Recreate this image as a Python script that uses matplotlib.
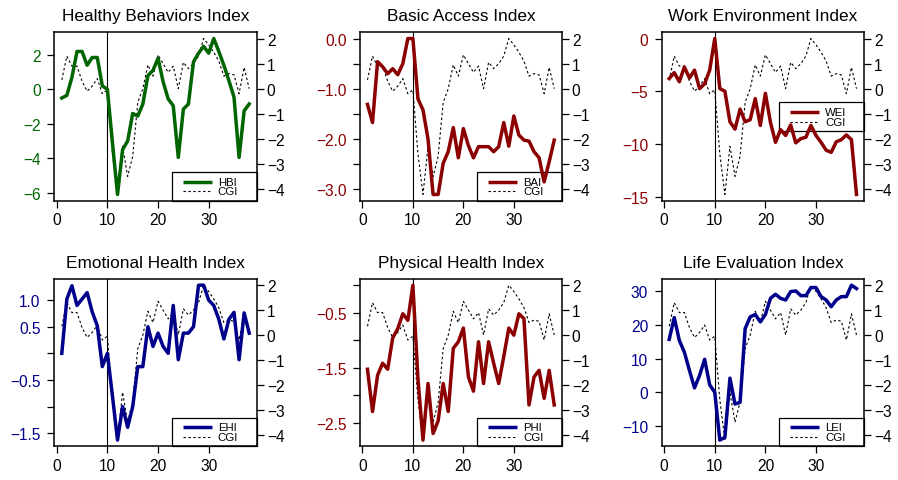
import numpy as np
import matplotlib
matplotlib.use('Agg')
import matplotlib.pyplot as plt
from matplotlib.patches import Rectangle

plt.rcParams['font.family'] = ['Liberation Sans', 'DejaVu Sans']

week = np.arange(1, 39)

# composite index, shared by every panel (right axis)
cgi = [0.35, 1.3, 0.9, 0.9, 0.3, -0.1, 0.1, 0.4, -0.2, -0.05,
       -2.6, -4.22, -2.3, -3.5, -2.7, -0.55, 0.0, 0.95, 0.5, 1.35,
       1.0, 0.65, 0.9, 0.0, 1.05, 0.8, 1.0, 1.3, 2.0, 1.75,
       1.45, 1.1, 0.5, 0.6, 0.55, -0.2, 0.85, 0.0]

hbi = [-0.5, -0.35, 0.7, 2.2, 2.2, 1.4, 1.85, 1.85, 0.2, 0.0,
       -3.1, -6.1, -3.5, -3.0, -1.4, -1.55, -0.85, 0.8, 1.1, 1.8,
       0.45, -0.55, -0.95, -3.95, -1.15, -0.85, 1.6, 2.1, 2.5, 2.1,
       2.95, 2.2, 1.4, 0.5, -0.45, -3.95, -1.25, -0.85]

bai = [-1.31, -1.67, -0.46, -0.56, -0.7, -0.6, -0.72, -0.5, 0.0, 0.0,
       -1.2, -1.42, -2.0, -3.1, -3.1, -2.48, -2.25, -1.77, -2.37, -1.79,
       -2.13, -2.37, -2.15, -2.15, -2.15, -2.25, -2.15, -1.67, -2.14, -1.54,
       -1.92, -2.02, -2.04, -2.25, -2.37, -2.85, -2.45, -2.02]

wei = [-3.8, -3.24, -4.1, -2.7, -3.75, -3.0, -4.75, -4.3, -3.0, 0.0,
       -4.75, -5.0, -7.9, -8.6, -6.7, -7.9, -7.7, -5.7, -8.25, -5.2,
       -7.95, -9.85, -8.65, -9.2, -8.2, -9.9, -9.5, -9.37, -8.25, -9.2,
       -9.85, -10.6, -10.8, -9.8, -9.6, -9.15, -9.6, -14.8]

ehi = [0.0, 1.02, 1.27, 0.9, 1.02, 1.14, 0.78, 0.52, -0.25, 0.0,
       -0.8, -1.63, -1.0, -1.39, -1.0, -0.25, -0.25, 0.5, 0.13, 0.38,
       0.13, 0.0, 0.9, -0.12, 0.38, 0.38, 0.5, 1.28, 1.28, 1.0,
       0.9, 0.64, 0.27, 0.64, 0.77, -0.12, 0.76, 0.38]

phi = [-1.53, -2.3, -1.64, -1.42, -1.53, -0.96, -0.79, -0.52, -0.64, 0.0,
       -1.7, -2.82, -1.79, -2.7, -2.47, -1.79, -2.3, -1.15, -1.03, -0.78,
       -1.67, -1.93, -1.03, -1.79, -1.03, -1.42, -1.79, -1.3, -0.78, -0.91,
       -0.52, -0.61, -2.18, -1.67, -1.55, -2.06, -1.55, -2.18]

lei = [15.7, 22.2, 15.4, 11.9, 6.5, 1.3, 5.0, 9.8, 2.2, 0.0,
       -14.2, -13.4, 4.2, -3.5, -3.0, 18.9, 22.4, 23.1, 20.9, 23.1,
       27.9, 29.1, 27.9, 27.4, 29.9, 30.1, 28.7, 28.7, 31.1, 31.1,
       28.4, 27.4, 25.4, 27.4, 28.4, 28.4, 31.8, 30.8]

x_ticks = [0, 10, 20, 30]
cgi_ticks = [-4, -3, -2, -1, 0, 1, 2]

green = '#006400'
red = '#8b0000'
navy = '#00008b'

# title, key label, series, line colour, key colour, y ticks, y tick labels, key centre
panels = [
    ('Healthy Behaviors Index', 'HBI', hbi, green, green,
     [-6, -4, -2, 0, 2], ['−6', '−4', '−2', '0', '2'], None),
    ('Basic Access Index', 'BAI', bai, red, red,
     [-3.0, -2.5, -2.0, -1.5, -1.0, -0.5, 0.0],
     ['−3.0', '', '−2.0', '', '−1.0', '', '0.0'], None),
    ('Work Environment Index', 'WEI', wei, red, red,
     [-15, -10, -5, 0], ['−15', '−10', '−5', '0'], 0.5),
    ('Emotional Health Index', 'EHI', ehi, navy, navy,
     [-1.5, -1.0, -0.5, 0.0, 0.5, 1.0],
     ['−1.5', '', '−0.5', '', '0.5', '1.0'], None),
    ('Physical Health Index', 'PHI', phi, red, navy,
     [-2.5, -2.0, -1.5, -1.0, -0.5, 0.0],
     ['−2.5', '', '−1.5', '', '−0.5', ''], None),
    ('Life Evaluation Index', 'LEI', lei, navy, navy,
     [-10, 0, 10, 20, 30], ['−10', '0', '10', '20', '30'], None),
]


def r_range(v, f=0.04):
    lo, hi = min(v), max(v)
    pad = (hi - lo) * f
    return lo - pad, hi + pad


def draw_key(ax, label, color, yc):
    w, h = 0.4185, 0.172
    x0 = 1 - w
    y0 = 0.0 if yc is None else yc - h / 2
    ax.add_patch(Rectangle((x0, y0), w, h, transform=ax.transAxes,
                           facecolor='white', edgecolor='black', lw=0.9,
                           zorder=2.5, clip_on=False))
    for frac, txt, c, style in [(0.657, label, color, '-'), (0.326, 'CGI', 'black', ':')]:
        yy = y0 + h * frac
        if style == '-':
            ax.plot([x0 + 0.0545, x0 + 0.1975], [yy, yy], color=c, lw=2.5,
                    transform=ax.transAxes, zorder=2.6, clip_on=False,
                    solid_capstyle='butt')
        else:
            ax.plot([x0 + 0.0545, x0 + 0.1975], [yy, yy], color=c, lw=0.8,
                    dashes=(2.2, 2.2), transform=ax.transAxes, zorder=2.6,
                    clip_on=False)
        ax.text(x0 + 0.2265, yy, txt, transform=ax.transAxes, fontsize=8.2,
                va='center', ha='left', zorder=2.7)


fig = plt.figure(figsize=(8.98, 4.81), dpi=100)
W, H = 898, 481
cols = [(54.3, 256.7), (360, 561.7), (661.7, 864)]
rows = [(33.3, 201.7), (280, 447.3)]

for i, (title, label, vals, col, key_col, yt, ytl, key_y) in enumerate(panels):
    (l, r), (t, b) = cols[i % 3], rows[i // 3]
    ax = fig.add_axes([l / W, (H - b) / H, (r - l) / W, (b - t) / H])
    ax2 = ax.twinx()
    ax.set_zorder(2)
    ax2.set_zorder(1)
    ax.patch.set_visible(False)

    ax2.plot(week, cgi, color='black', lw=0.8, dashes=(2.2, 2.2))
    ax2.set_ylim(*r_range(cgi))
    ax2.set_yticks(cgi_ticks)
    ax2.set_yticklabels([str(v).replace('-', '−') for v in cgi_ticks])
    ax2.tick_params(axis='y', length=4.8, width=0.9, pad=2.5, labelsize=11.2)
    for s in ax2.spines.values():
        s.set_visible(False)

    ax.plot(week, vals, color=col, lw=2.5, zorder=3)
    ax.axvline(10, color='black', lw=0.8, zorder=2.8)
    ax.set_xlim(*r_range(week))
    ax.set_ylim(*r_range(vals))
    ax.set_xticks(x_ticks)
    ax.set_yticks(yt)
    ax.set_yticklabels(ytl)
    ax.tick_params(axis='y', labelcolor=col, length=4.8, width=0.9, pad=5,
                   labelsize=11.2)
    ax.tick_params(axis='x', length=4.8, width=0.9, pad=3.5, labelsize=11.2)
    for s in ax.spines.values():
        s.set_linewidth(1.1)
    ax.set_title(title, fontsize=12.4, pad=8.7)

    draw_key(ax, label, key_col, key_y)

fig.savefig('out.png', dpi=100)
